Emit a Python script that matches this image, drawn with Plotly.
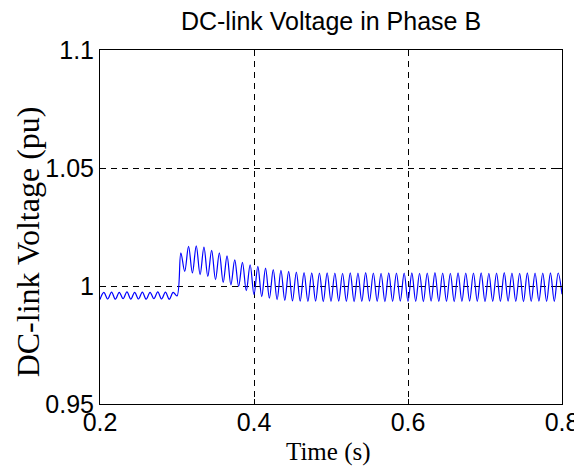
import plotly.graph_objects as go

# ---- data (100 Hz ripple: one trough + one peak per cycle) ----
cycle_t = [0.20, 0.21, 0.22, 0.23, 0.24, 0.25, 0.26, 0.27, 0.28, 0.29,
           0.30, 0.31, 0.32, 0.33, 0.34, 0.35, 0.36, 0.37, 0.38, 0.39,
           0.40, 0.41, 0.42, 0.43, 0.44, 0.45, 0.46, 0.47, 0.48, 0.49,
           0.50, 0.51, 0.52, 0.53, 0.54, 0.55, 0.56, 0.57, 0.58, 0.59,
           0.60, 0.61, 0.62, 0.63, 0.64, 0.65, 0.66, 0.67, 0.68, 0.69,
           0.70, 0.71, 0.72, 0.73, 0.74, 0.75, 0.76, 0.77, 0.78, 0.79, 0.80]

peak_t = [0.205, 0.215, 0.225, 0.235, 0.245, 0.255, 0.265, 0.275, 0.285, 0.295,
          0.305, 0.315, 0.325, 0.335, 0.345, 0.355, 0.365, 0.375, 0.385, 0.395,
          0.405, 0.415, 0.425, 0.435, 0.445, 0.455, 0.465, 0.475, 0.485, 0.495,
          0.505, 0.515, 0.525, 0.535, 0.545, 0.555, 0.565, 0.575, 0.585, 0.595,
          0.605, 0.615, 0.625, 0.635, 0.645, 0.655, 0.665, 0.675, 0.685, 0.695,
          0.705, 0.715, 0.725, 0.735, 0.745, 0.755, 0.765, 0.775, 0.785, 0.795]

trough_v = [0.9943, 0.9945, 0.9944, 0.9946, 0.9944, 0.9945, 0.9944, 0.9946, 0.9945, 0.9944,
            0.9958, 1.0062, 1.0055, 1.0048, 1.0041, 1.0027, 1.0015, 1.0005, 0.9998, 0.9980,
            0.9963, 0.9955, 0.9948, 0.9942, 0.9939, 0.9937, 0.9936, 0.9935, 0.9936, 0.9934,
            0.9935, 0.9936, 0.9935, 0.9934, 0.9935, 0.9936, 0.9935, 0.9934, 0.9935, 0.9936,
            0.9935, 0.9935, 0.9934, 0.9936, 0.9935, 0.9935, 0.9934, 0.9935, 0.9936, 0.9935,
            0.9934, 0.9935, 0.9935, 0.9936, 0.9935, 0.9934, 0.9935, 0.9936, 0.9935, 0.9935, 0.9965]

peak_v = [0.9973, 0.9974, 0.9973, 0.9975, 0.9973, 0.9974, 0.9973, 0.9975, 0.9974, 0.9973,
          1.0140, 1.0168, 1.0170, 1.0165, 1.0151, 1.0140, 1.0128, 1.0111, 1.0100, 1.0090,
          1.0083, 1.0076, 1.0069, 1.0066, 1.0062, 1.0059, 1.0057, 1.0056, 1.0055, 1.0056,
          1.0055, 1.0054, 1.0056, 1.0055, 1.0057, 1.0055, 1.0054, 1.0056, 1.0055, 1.0055,
          1.0056, 1.0054, 1.0055, 1.0057, 1.0055, 1.0054, 1.0056, 1.0055, 1.0055, 1.0056,
          1.0054, 1.0055, 1.0057, 1.0055, 1.0054, 1.0056, 1.0055, 1.0055, 1.0056, 1.0055]

x_ticks = [0.2, 0.4, 0.6, 0.8]
x_ticktext = ["0.2", "0.4", "0.6", "0.8"]
y_ticks = [0.95, 1.0, 1.05, 1.1]
y_ticktext = ["0.95", "1", "1.05", "1.1"]

# interleave troughs and peaks in time order
t_series, v_series = [], []
for i in range(len(peak_t)):
    t_series += [cycle_t[i], peak_t[i]]
    v_series += [trough_v[i], peak_v[i]]
t_series.append(cycle_t[-1])
v_series.append(trough_v[-1])

fig = go.Figure()
fig.add_trace(go.Scatter(x=t_series, y=v_series, mode="lines",
                         line=dict(color="#0000ff", width=1.2, shape="spline", smoothing=1.0),
                         hoverinfo="skip"))

axis_common = dict(showline=True, linecolor="black", linewidth=1, mirror="ticks",
                   ticks="inside", ticklen=5, tickcolor="black", tickwidth=1,
                   showgrid=True, gridcolor="black", gridwidth=1, griddash="6px,5px",
                   zeroline=False, automargin=False,
                   tickfont=dict(family="Liberation Sans, Arial", size=25, color="black"))

fig.update_xaxes(range=[0.2, 0.8], tickvals=x_ticks, ticktext=x_ticktext,
                 ticklabelstandoff=-4, **axis_common)
fig.update_yaxes(range=[0.95, 1.1], tickvals=y_ticks, ticktext=y_ticktext, **axis_common)

fig.update_layout(
    width=574, height=460,
    margin=dict(l=91.5, r=20, t=42, b=63.5, autoexpand=False),
    plot_bgcolor="white", paper_bgcolor="white",
    showlegend=False,
    title=dict(text="DC-link Voltage in Phase B", x=323 / 574, xanchor="center",
               y=1 - 13 / 460, yanchor="middle", automargin=False,
               font=dict(family="Liberation Sans, Arial", size=25, color="black")),
    annotations=[
        dict(text="Time (s)", xref="paper", yref="paper", x=0.494, y=-0.135,
             xanchor="center", yanchor="middle", showarrow=False,
             font=dict(family="Liberation Serif, Times New Roman", size=25, color="black")),
        dict(text="DC-link Voltage (pu)", xref="paper", yref="paper", x=-0.157, y=0.458,
             xanchor="center", yanchor="middle", showarrow=False, textangle=-90,
             font=dict(family="Liberation Serif, Times New Roman", size=32, color="black")),
    ],
)

fig.write_html("out.html")
